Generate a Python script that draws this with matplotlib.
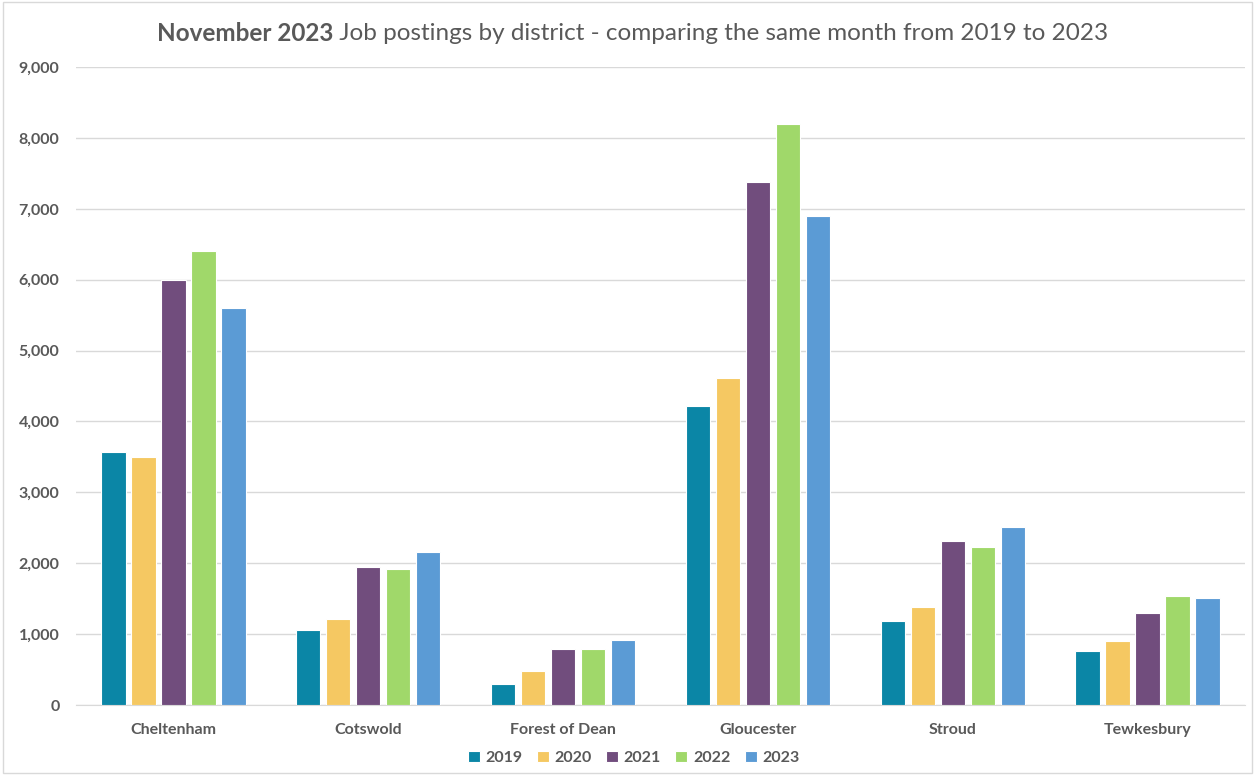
import numpy as np
import matplotlib
matplotlib.use("Agg")
import matplotlib.pyplot as plt
from matplotlib.patches import Rectangle

plt.rcParams['font.family'] = ['Lato', 'DejaVu Sans']

# Data
districts = ["Cheltenham", "Cotswold", "Forest of Dean", "Gloucester", "Stroud", "Tewkesbury"]
years = ["2019", "2020", "2021", "2022", "2023"]
y2019 = [3565, 1055, 296, 4215, 1180, 762]
y2020 = [3495, 1210, 475, 4610, 1378, 898]
y2021 = [5990, 1950, 794, 7385, 2313, 1293]
y2022 = [6405, 1915, 794, 8190, 2228, 1533]
y2023 = [5605, 2160, 917, 6905, 2506, 1505]
colors = ["#0B86A6", "#F5C862", "#714D7D", "#A0D86A", "#5B9BD5"]

series = [y2019, y2020, y2021, y2022, y2023]

fig = plt.figure(figsize=(12.55, 7.75), dpi=100)
ax = fig.add_axes([0.0606, 0.0903, 0.9314, 0.8232])

x = np.arange(len(districts))
step = 0.154
width = 0.125
for i, (vals, yr, c) in enumerate(zip(series, years, colors)):
    ax.bar(x + (i - 2) * step, vals, width, color=c, label=yr,
           edgecolor="white", linewidth=0.8, zorder=3)

ax.set_xlim(-0.5, len(districts) - 0.5)
ax.set_ylim(0, 9000)
ax.set_yticks(np.arange(0, 9001, 1000))
ax.yaxis.set_major_formatter(matplotlib.ticker.FuncFormatter(lambda v, p: f"{int(v):,}"))
ax.set_xticks(x)
ax.set_xticklabels(districts)
ax.grid(axis="y", color="#D9D9D9", linewidth=1, zorder=0)
for s in ["top", "right", "left"]:
    ax.spines[s].set_visible(False)
ax.spines["bottom"].set_color("#D9D9D9")
ax.tick_params(axis="both", length=0, labelcolor="#595959", labelsize=11.5)
ax.tick_params(axis="x", pad=13)
ax.tick_params(axis="y", pad=12)
for lab in ax.get_xticklabels() + ax.get_yticklabels():
    lab.set_fontweight("bold")

leg = fig.legend(loc="center", bbox_to_anchor=(0.505, 0.022), ncol=5, frameon=False,
                 handlelength=0.75, handleheight=0.75, handletextpad=0.35, columnspacing=0.9,
                 prop={"weight": "bold", "size": 11.5})
for t in leg.get_texts():
    t.set_color("#595959")

# title: bold part followed by regular part, centred overall
fig.canvas.draw()
r = fig.canvas.get_renderer()
t1 = fig.text(0, 0.957, "November 2023", fontsize=17.5, fontweight="bold", color="#595959", va="center")
t2 = fig.text(0, 0.957, " Job postings by district - comparing the same month from 2019 to 2023",
              fontsize=17.5, color="#595959", va="center")
w1 = t1.get_window_extent(r).width / fig.bbox.width
w2 = t2.get_window_extent(r).width / fig.bbox.width
x0 = 0.504 - (w1 + w2) / 2
t1.set_x(x0)
t2.set_x(x0 + w1)

# light chart border
fig.patches.append(Rectangle((0.002, 0.002), 0.996, 0.996, transform=fig.transFigure,
                             fill=False, edgecolor="#D9D9D9", linewidth=1))

fig.savefig("out.png", dpi=100)
